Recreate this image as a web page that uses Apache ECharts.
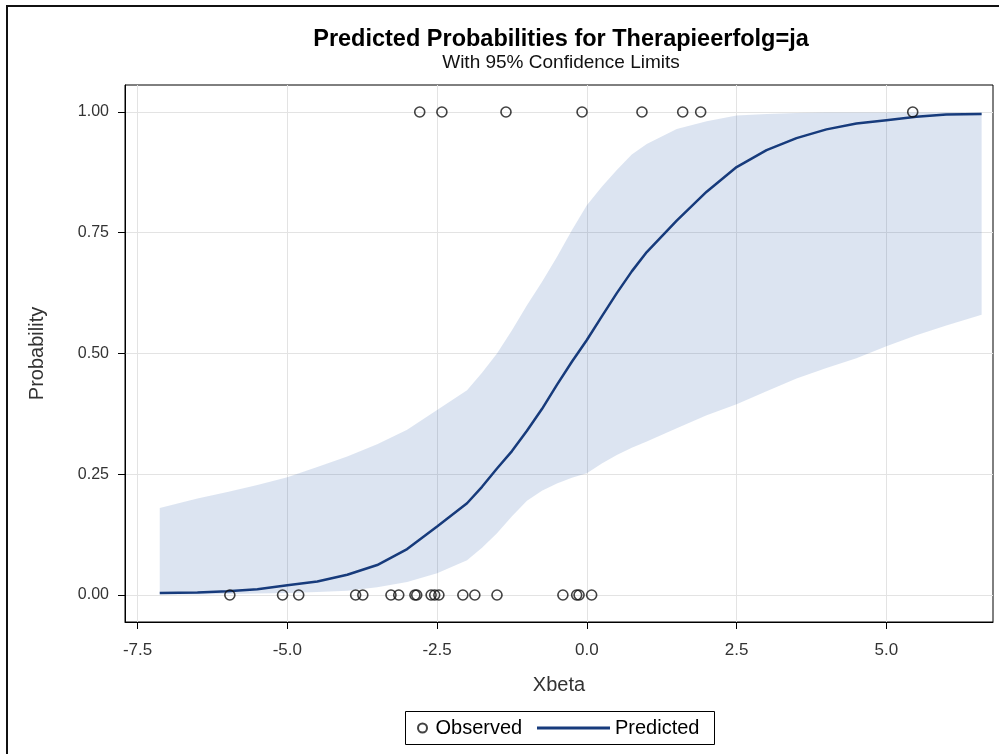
<!DOCTYPE html>
<html>
<head>
<meta charset="utf-8">
<style>
  html, body { margin: 0; padding: 0; background: #fff; }
  #main { width: 999px; height: 754px; }
</style>
<script src="https://cdn.jsdelivr.net/npm/echarts@6/dist/echarts.min.js"></script>
</head>
<body>
<div id="main"></div>
<script>
// observed outcomes (Xbeta of each case), split by response
var obsYes = [-2.79, -2.42, -1.35, -0.08, 0.92, 1.60, 1.90, 5.44];
var obsNo = [-5.96, -5.08, -4.81, -3.86, -3.74, -3.27, -3.14, -2.87, -2.84,
    -2.60, -2.54, -2.47, -2.07, -1.87, -1.50, -0.40, -0.17, -0.13, 0.08];

// predicted probability and 95% limits
var xbeta = [-7.13, -6.5, -6.0, -5.5, -5.0, -4.5, -4.0, -3.5, -3.0, -2.5, -2.0, -1.75, -1.5, -1.25, -1.0, -0.75, -0.5, -0.25,
    0, 0.25, 0.5, 0.75, 1.0, 1.5, 2.0, 2.5, 3.0, 3.5, 4.0, 4.5, 5.0, 5.5, 6.0, 6.59];
var predicted = [0.004, 0.005, 0.008, 0.012, 0.020, 0.028, 0.042, 0.062, 0.095, 0.142, 0.190, 0.224, 0.262, 0.298, 0.340, 0.385, 0.435, 0.483,
    0.528, 0.577, 0.625, 0.670, 0.710, 0.775, 0.835, 0.886, 0.921, 0.946, 0.964, 0.976, 0.983, 0.990, 0.995, 0.996];
var upper = [0.180, 0.200, 0.213, 0.228, 0.244, 0.265, 0.287, 0.312, 0.342, 0.383, 0.424, 0.460, 0.500, 0.548, 0.600, 0.648, 0.700, 0.755,
    0.807, 0.845, 0.880, 0.912, 0.934, 0.965, 0.981, 0.993, 0.996, 0.998, 0.999, 0.999, 0.999, 0.999, 0.999, 0.999];
var lower = [0.001, 0.001, 0.002, 0.003, 0.004, 0.006, 0.009, 0.016, 0.027, 0.045, 0.072, 0.098, 0.128, 0.163, 0.195, 0.216, 0.231, 0.243,
    0.252, 0.272, 0.290, 0.305, 0.318, 0.345, 0.372, 0.395, 0.422, 0.448, 0.470, 0.490, 0.515, 0.538, 0.558, 0.580];

var xTicks = [-7.5, -5, -2.5, 0, 2.5, 5];
var yTicks = [0, 0.25, 0.5, 0.75, 1];

var font = 'Liberation Sans';
var lineColor = '#173b7c';

var curveData = xbeta.map(function (x, i) { return [x, predicted[i]]; });
var bandData = xbeta.map(function (x, i) { return [x, lower[i], upper[i]]; });
var obsData = obsYes.map(function (x) { return [x, 1]; })
    .concat(obsNo.map(function (x) { return [x, 0]; }));

var myChart = echarts.init(document.getElementById('main'));

option = {
    animation: false,
    textStyle: { fontFamily: font },
    title: {
        text: 'Predicted Probabilities for Therapieerfolg=ja',
        subtext: 'With 95% Confidence Limits',
        left: 556,
        top: 22,
        textAlign: 'center',
        itemGap: -1,
        textStyle: { fontFamily: font, fontSize: 23.5, fontWeight: 'bold', color: '#000', lineHeight: 26 },
        subtextStyle: { fontFamily: font, fontSize: 19, color: '#111', lineHeight: 22 }
    },
    legend: [{
        left: 412, top: 713,
        itemWidth: 16, itemHeight: 9,
        selectedMode: false,
        data: ['Observed'],
        textStyle: { fontFamily: font, fontSize: 20, color: '#000' }
    }, {
        left: 532, top: 713,
        itemWidth: 73, itemHeight: 3,
        selectedMode: false,
        data: [{ name: 'Predicted', icon: 'rect' }],
        textStyle: { fontFamily: font, fontSize: 20, color: '#000' }
    }],
    graphic: [{
        type: 'rect',
        shape: { x: 7, y: 6, width: 1010, height: 760 },
        style: { fill: 'none', stroke: '#111', lineWidth: 2 },
        silent: true
    }, {
        type: 'rect',
        shape: { x: 405.5, y: 711.5, width: 309, height: 33 },
        style: { fill: 'none', stroke: '#000', lineWidth: 1 },
        silent: true
    }],
    grid: {
        left: 125, top: 85, right: 6, bottom: 132,
        show: true, borderColor: '#000', borderWidth: 1, backgroundColor: 'transparent'
    },
    xAxis: {
        type: 'value',
        min: -7.71, max: 6.78,
        name: 'Xbeta',
        nameLocation: 'middle',
        nameGap: 53,
        nameTextStyle: { fontFamily: font, fontSize: 20, color: '#333' },
        axisLine: { onZero: false, lineStyle: { color: '#000' } },
        axisTick: { customValues: xTicks, length: 7, lineStyle: { color: '#000' } },
        axisLabel: {
            customValues: xTicks, margin: 20, fontSize: 17, color: '#333',
            formatter: function (v) { return v.toFixed(1); }
        },
        splitLine: { show: true, lineStyle: { color: '#e3e3e3', width: 1 } }
    },
    yAxis: {
        type: 'value',
        min: -0.0559, max: 1.0559,
        name: 'Probability',
        nameLocation: 'middle',
        nameGap: 78,
        nameTextStyle: { fontFamily: font, fontSize: 20, color: '#333' },
        axisLine: { show: true, onZero: false, lineStyle: { color: '#000' } },
        axisTick: { show: true, customValues: yTicks, length: 7, lineStyle: { color: '#000' } },
        axisLabel: {
            customValues: yTicks, margin: 16, fontSize: 16, color: '#333',
            formatter: function (v) { return v.toFixed(2); }
        },
        splitLine: { show: true, lineStyle: { color: '#e3e3e3', width: 1 } }
    },
    series: [{
        name: 'Confidence',
        type: 'custom',
        data: bandData,
        encode: { x: 0, y: [1, 2] },
        silent: true,
        z: 1,
        renderItem: function (params, api) {
            if (params.dataIndex !== 0) return;
            var pts = [];
            for (var i = 0; i < xbeta.length; i++) pts.push(api.coord([xbeta[i], upper[i]]));
            for (var j = xbeta.length - 1; j >= 0; j--) pts.push(api.coord([xbeta[j], lower[j]]));
            return {
                type: 'polygon',
                shape: { points: pts },
                style: { fill: 'rgba(45,95,170,0.167)' }
            };
        }
    }, {
        name: 'Predicted',
        type: 'line',
        data: curveData,
        showSymbol: false,
        symbol: 'none',
        z: 3,
        lineStyle: { color: lineColor, width: 2.5 },
        itemStyle: { color: lineColor }
    }, {
        name: 'Observed',
        type: 'scatter',
        data: obsData,
        symbol: 'circle',
        symbolSize: 10,
        z: 4,
        itemStyle: { color: 'rgba(0,0,0,0)', borderColor: '#111', borderWidth: 1.6 }
    }]
};
myChart.setOption(option);
</script>
</body>
</html>
